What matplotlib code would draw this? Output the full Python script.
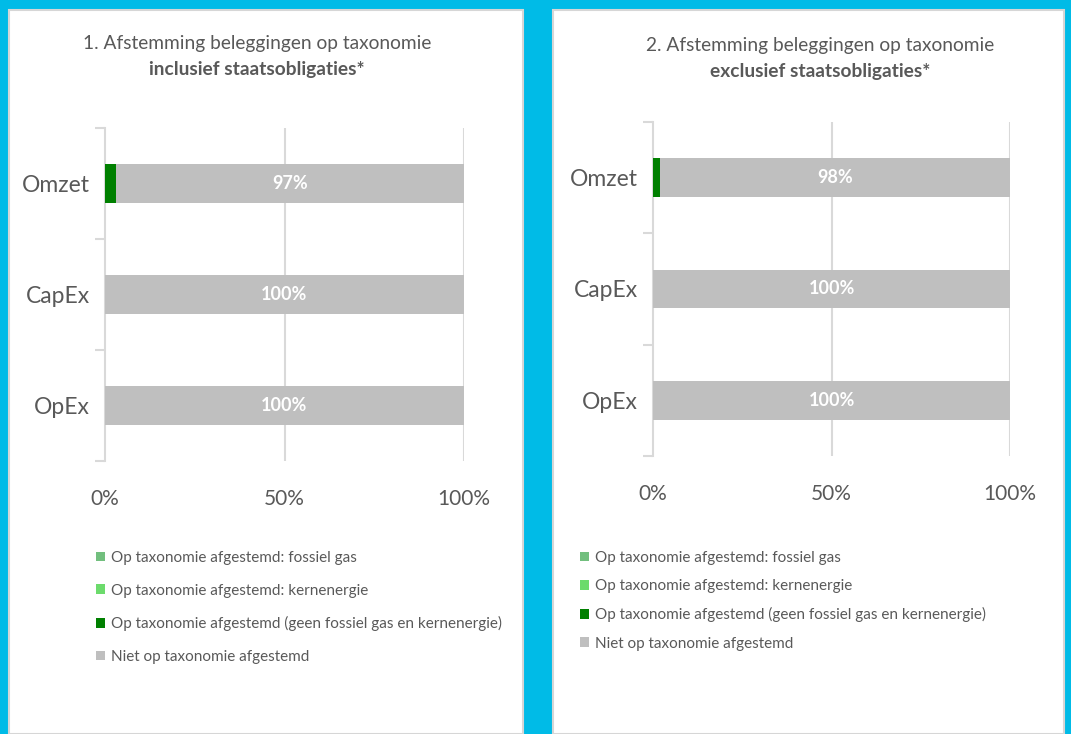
import matplotlib
matplotlib.use("Agg")
import matplotlib.pyplot as plt
from matplotlib.patches import Rectangle, Patch

plt.rcParams['font.family'] = ['Lato', 'DejaVu Sans']

categories = ["Omzet", "CapEx", "OpEx"]
series_names = [
    "Op taxonomie afgestemd: fossiel gas",
    "Op taxonomie afgestemd: kernenergie",
    "Op taxonomie afgestemd (geen fossiel gas en kernenergie)",
    "Niet op taxonomie afgestemd",
]
colors = ["#72BF7E", "#6CDB6C", "#008000", "#BFBFBF"]

# chart 1 (inclusief staatsobligaties)
c1_fossiel = [0, 0, 0]
c1_kern = [0, 0, 0]
c1_aligned = [3, 0, 0]
c1_niet = [97, 100, 100]
# chart 2 (exclusief staatsobligaties)
c2_fossiel = [0, 0, 0]
c2_kern = [0, 0, 0]
c2_aligned = [2, 0, 0]
c2_niet = [98, 100, 100]

title1_a = "1. Afstemming beleggingen op taxonomie"
title1_b = "inclusief staatsobligaties*"
title2_a = "2. Afstemming beleggingen op taxonomie"
title2_b = "exclusief staatsobligaties*"
xticks = [0, 50, 100]
xticklabels = ["0%", "50%", "100%"]

W, H = 1071, 734
fig = plt.figure(figsize=(W / 100, H / 100), dpi=100)
fig.patch.set_facecolor("#00BBE7")

def px(x0, y0, w, h):
    return [x0 / W, 1 - (y0 + h) / H, w / W, h / H]

# white panels
for (x0, x1) in [(9, 523), (553, 1064)]:
    fig.patches.append(Rectangle((x0 / W, 0), (x1 - x0) / W, 1 - 10 / H,
                                 transform=fig.transFigure, facecolor="white",
                                 edgecolor="#D6D6D6", linewidth=1.5, zorder=-10))

TXT = "#595959"
GRID = "#D9D9D9"

def draw(ax, data, t_a, t_b, tx, ty):
    ax.set_facecolor("none")
    ypos = [2, 1, 0]
    left = [0, 0, 0]
    for vals, col in zip(data, colors):
        ax.barh(ypos, vals, left=left, height=0.35, color=col, zorder=3)
        left = [l + v for l, v in zip(left, vals)]
    niet = data[3]
    starts = [sum(d[i] for d in data[:3]) for i in range(3)]
    for y, s, v in zip(ypos, starts, niet):
        ax.text(s + v / 2, y, f"{v}%", ha="center", va="center", color="white",
                fontsize=13, fontweight="bold", zorder=4)
    ax.set_xlim(0, 100)
    ax.set_ylim(-0.5, 2.5)
    ax.set_yticks(ypos)
    ax.set_yticklabels(categories, fontsize=16.5, color=TXT)
    ax.set_yticks([-0.5, 0.5, 1.5, 2.5], minor=True)
    ax.tick_params(axis="y", which="major", length=0, pad=11)
    ax.tick_params(axis="y", which="minor", length=7, color=GRID, width=1.5)
    ax.set_xticks(xticks)
    ax.set_xticklabels(xticklabels, fontsize=15, color=TXT)
    ax.tick_params(axis="x", length=0, pad=20)
    for x in [50, 100]:
        ax.axvline(x, color=GRID, lw=1.5, zorder=1)
    for s in ["top", "right", "bottom"]:
        ax.spines[s].set_visible(False)
    ax.spines["left"].set_color(GRID)
    ax.spines["left"].set_linewidth(1.5)
    fig.text(tx, ty, t_a, ha="center", va="center", fontsize=13.8, color=TXT)
    fig.text(tx, ty - 27 / H, t_b, ha="center", va="center", fontsize=13.8,
             color=TXT, fontweight="bold")

ax1 = fig.add_axes(px(105, 128, 359, 333))
draw(ax1, [c1_fossiel, c1_kern, c1_aligned, c1_niet], title1_a, title1_b,
     257 / W, 1 - 43 / H)
ax2 = fig.add_axes(px(653, 122, 357, 334))
draw(ax2, [c2_fossiel, c2_kern, c2_aligned, c2_niet], title2_a, title2_b,
     820 / W, 1 - 45 / H)

handles = [Patch(facecolor=c, edgecolor="none") for c in colors]
for (lx, ly, sp) in [(96, 551, 1.22), (580, 551, 0.93)]:
    fig.legend(handles, series_names, loc="upper left",
               bbox_to_anchor=(lx / W, 1 - ly / H), frameon=False,
               fontsize=11, labelcolor=TXT, handlelength=0.6,
               handleheight=0.6, handletextpad=0.35, labelspacing=sp,
               borderaxespad=0, borderpad=0)

fig.savefig("out.png", dpi=100, facecolor=fig.get_facecolor())
